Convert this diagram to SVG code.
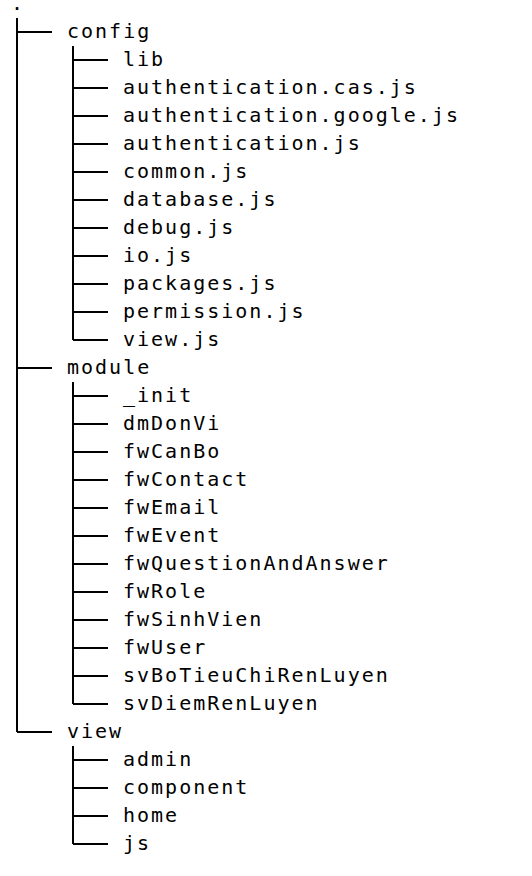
<svg xmlns="http://www.w3.org/2000/svg" width="532" height="876" viewBox="0 0 532 876">
<style>
text{font-family:"DejaVu Sans Mono","Liberation Mono",monospace;font-size:20px;letter-spacing:2px;fill:#000}
.c path{fill:none;stroke:#000;stroke-width:2}
</style>
<rect width="532" height="876" fill="#fff"/>
<g class="c" id="connectors">
<path d="M17 18V732M17 32H52M17 368H52M17 732H52"/>
<path d="M73 46V340M73 60H108M73 88H108M73 116H108M73 144H108M73 172H108M73 200H108M73 228H108M73 256H108M73 284H108M73 312H108M73 340H108"/>
<path d="M73 382V704M73 396H108M73 424H108M73 452H108M73 480H108M73 508H108M73 536H108M73 564H108M73 592H108M73 620H108M73 648H108M73 676H108M73 704H108"/>
<path d="M73 746V844M73 760H108M73 788H108M73 816H108M73 844H108"/>
</g>
<g id="root"><text x="11" y="10">.</text></g>
<g id="config"><text x="67" y="38">config</text></g>
<g id="config-children">
<text x="123" y="66">lib</text>
<text x="123" y="94">authentication.cas.js</text>
<text x="123" y="122">authentication.google.js</text>
<text x="123" y="150">authentication.js</text>
<text x="123" y="178">common.js</text>
<text x="123" y="206">database.js</text>
<text x="123" y="234">debug.js</text>
<text x="123" y="262">io.js</text>
<text x="123" y="290">packages.js</text>
<text x="123" y="318">permission.js</text>
<text x="123" y="346">view.js</text>
</g>
<g id="module"><text x="67" y="374">module</text></g>
<g id="module-children">
<text x="123" y="402">_init</text>
<text x="123" y="430">dmDonVi</text>
<text x="123" y="458">fwCanBo</text>
<text x="123" y="486">fwContact</text>
<text x="123" y="514">fwEmail</text>
<text x="123" y="542">fwEvent</text>
<text x="123" y="570">fwQuestionAndAnswer</text>
<text x="123" y="598">fwRole</text>
<text x="123" y="626">fwSinhVien</text>
<text x="123" y="654">fwUser</text>
<text x="123" y="682">svBoTieuChiRenLuyen</text>
<text x="123" y="710">svDiemRenLuyen</text>
</g>
<g id="view"><text x="67" y="738">view</text></g>
<g id="view-children">
<text x="123" y="766">admin</text>
<text x="123" y="794">component</text>
<text x="123" y="822">home</text>
<text x="123" y="850">js</text>
</g>
</svg>
